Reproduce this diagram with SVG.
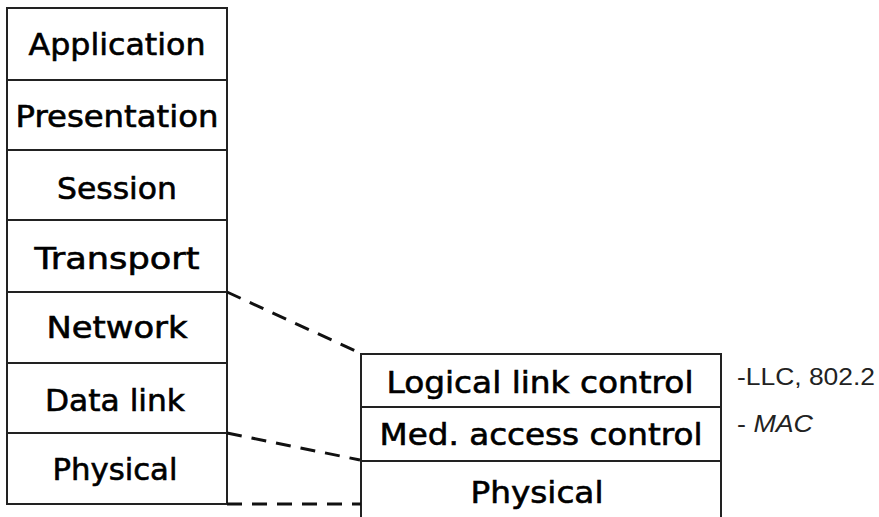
<svg xmlns="http://www.w3.org/2000/svg" width="879" height="517" viewBox="0 0 879 517">
<style>
.box{fill:#fff;stroke:#222;stroke-width:2}
.lbl{font-family:"DejaVu Sans","Liberation Sans",sans-serif;font-size:30px;fill:#000;stroke:#000;stroke-width:0.6;text-anchor:middle}
.note{font-family:"Liberation Sans Narrow","Liberation Sans",sans-serif;font-size:23px;fill:#222}
.dash{stroke:#111;stroke-width:3;stroke-dasharray:15 10;fill:none}
</style>
<rect width="879" height="517" fill="#fff"/>
<g id="osi-stack">
<g id="application"><rect class="box" x="7" y="8" width="220" height="72"/><text class="lbl" x="117" y="55" textLength="177" lengthAdjust="spacingAndGlyphs">Application</text></g>
<g id="presentation"><rect class="box" x="7" y="80" width="220" height="70"/><text class="lbl" x="117" y="127" textLength="203" lengthAdjust="spacingAndGlyphs">Presentation</text></g>
<g id="session"><rect class="box" x="7" y="150" width="220" height="70"/><text class="lbl" x="117" y="199" textLength="120" lengthAdjust="spacingAndGlyphs">Session</text></g>
<g id="transport"><rect class="box" x="7" y="220" width="220" height="72"/><text class="lbl" x="117" y="269" textLength="165" lengthAdjust="spacingAndGlyphs">Transport</text></g>
<g id="network"><rect class="box" x="7" y="292" width="220" height="71"/><text class="lbl" x="117" y="338" textLength="141" lengthAdjust="spacingAndGlyphs">Network</text></g>
<g id="datalink"><rect class="box" x="7" y="363" width="220" height="70"/><text class="lbl" x="115" y="411" textLength="140" lengthAdjust="spacingAndGlyphs">Data link</text></g>
<g id="physical-left"><rect class="box" x="7" y="433" width="220" height="71"/><text class="lbl" x="115" y="480" textLength="125" lengthAdjust="spacingAndGlyphs">Physical</text></g>
</g>
<g id="lan-stack">
<g id="llc"><rect class="box" x="361" y="354" width="360" height="53"/><text class="lbl" x="540" y="393" textLength="307" lengthAdjust="spacingAndGlyphs">Logical link control</text></g>
<g id="mac"><rect class="box" x="361" y="407" width="360" height="54"/><text class="lbl" x="541" y="445" textLength="323" lengthAdjust="spacingAndGlyphs">Med. access control</text></g>
<g id="physical-right"><path class="box" d="M361 530 V461 H721 V530"/><text class="lbl" x="537" y="503" textLength="133" lengthAdjust="spacingAndGlyphs">Physical</text></g>
</g>
<g id="notes">
<text class="note" x="737" y="385" textLength="138" lengthAdjust="spacingAndGlyphs">-LLC, 802.2</text>
<text class="note" x="737" y="432" textLength="76" lengthAdjust="spacingAndGlyphs">- <tspan font-style="italic">MAC</tspan></text>
</g>
<g id="connectors">
<line class="dash" x1="227" y1="292" x2="360" y2="353"/>
<line class="dash" x1="227" y1="433" x2="360" y2="460"/>
<line class="dash" x1="227" y1="504" x2="361" y2="504"/>
</g>
</svg>
